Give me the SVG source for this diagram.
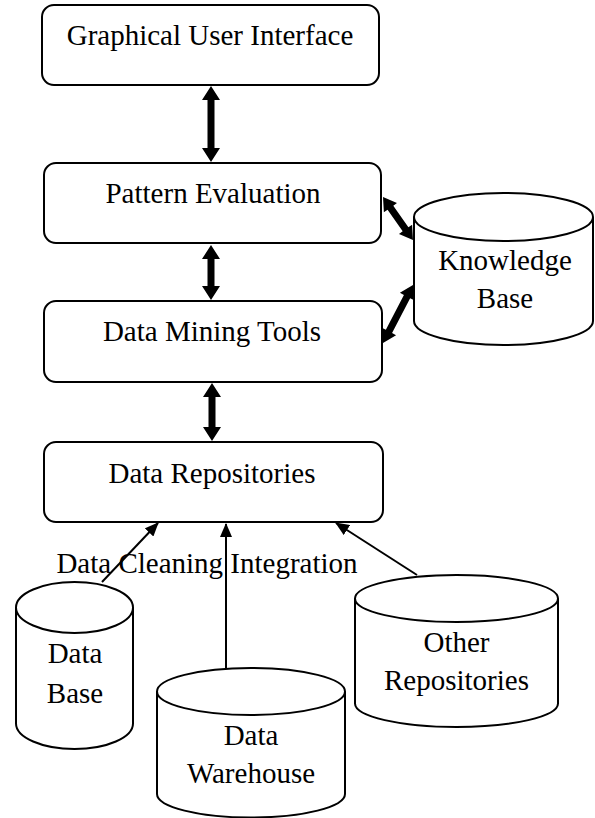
<svg xmlns="http://www.w3.org/2000/svg" width="595" height="818" viewBox="0 0 595 818">
<style>
.box{fill:#fff;stroke:#000;stroke-width:2}
.cyl{fill:#fff;stroke:#000;stroke-width:2}
.t{font-family:"Liberation Serif","Times New Roman",serif;font-size:29px;fill:#000;text-anchor:middle}
.thin{stroke:#000;stroke-width:2;fill:none;marker-end:url(#ah)}
.thick{fill:#000;stroke:none}
</style>
<defs>
<marker id="ah" viewBox="0 0 14 12" refX="13" refY="6" markerWidth="14" markerHeight="12" markerUnits="userSpaceOnUse" orient="auto"><path d="M0,0 L14,6 L0,12 Z" fill="#000"/></marker>
</defs>
<rect width="595" height="818" fill="#fff"/>
<g id="gui"><rect class="box" x="42" y="5" width="337" height="80" rx="12"/><text class="t" x="210" y="45">Graphical User Interface</text></g>
<g id="pattern"><rect class="box" x="44" y="163" width="337" height="80" rx="12"/><text class="t" x="213" y="203">Pattern Evaluation</text></g>
<g id="mining"><rect class="box" x="44" y="301" width="338" height="81" rx="12"/><text class="t" x="212" y="341">Data Mining Tools</text></g>
<g id="repos"><rect class="box" x="44" y="442" width="339" height="80" rx="12"/><text class="t" x="212" y="483">Data Repositories</text></g>
<g id="kb"><path class="cyl" d="M414,217 L414,321 A89.5,24 0 0 0 593,321 L593,217"/><ellipse class="cyl" cx="503.5" cy="217" rx="89.5" ry="24"/><text class="t" x="505" y="270">Knowledge</text><text class="t" x="505" y="308">Base</text></g>
<g id="database"><path class="cyl" d="M16,607.5 L16,723.5 A58.5,25.5 0 0 0 133,723.5 L133,607.5"/><ellipse class="cyl" cx="74.5" cy="607.5" rx="58.5" ry="25.5"/><text class="t" x="75" y="663">Data</text><text class="t" x="75" y="703">Base</text></g>
<g id="warehouse"><path class="cyl" d="M157,691.5 L157,794 A94,23.5 0 0 0 345,794 L345,691.5"/><ellipse class="cyl" cx="251" cy="691.5" rx="94" ry="23.5"/><text class="t" x="251" y="745">Data</text><text class="t" x="251" y="783">Warehouse</text></g>
<g id="other"><path class="cyl" d="M355,598.5 L355,703.5 A101.5,23.5 0 0 0 558,703.5 L558,598.5"/><ellipse class="cyl" cx="456.5" cy="598.5" rx="101.5" ry="23.5"/><text class="t" x="456.5" y="652">Other</text><text class="t" x="456.5" y="690">Repositories</text></g>
<g id="connectors">
<path class="thick" d="M211,86 L220,100 L214.5,100 L214.5,148 L220,148 L211,162 L202,148 L207.5,148 L207.5,100 L202,100 Z"/>
<path class="thick" d="M211,245 L220,259 L214.5,259 L214.5,286 L220,286 L211,300 L202,286 L207.5,286 L207.5,259 L202,259 Z"/>
<path class="thick" d="M212,383 L221,397 L215.5,397 L215.5,427 L221,427 L212,441 L203,427 L208.5,427 L208.5,397 L203,397 Z"/>
<path class="thick" transform="translate(383,197) rotate(55.1)" d="M0,0 L13,-8 L13,-3.5 L39.4,-3.5 L39.4,-8 L52.4,0 L39.4,8 L39.4,3.5 L13,3.5 L13,8 Z"/>
<path class="thick" transform="translate(413,285) rotate(117.35)" d="M0,0 L13,-8 L13,-3.5 L52.3,-3.5 L52.3,-8 L65.3,0 L52.3,8 L52.3,3.5 L13,3.5 L13,8 Z"/>
<line class="thin" x1="102" y1="582" x2="158" y2="523"/>
<line class="thin" x1="226" y1="668" x2="226" y2="524"/>
<line class="thin" x1="417" y1="575" x2="336" y2="523"/>
</g>
<text id="label" class="t" x="207" y="573">Data Cleaning Integration</text>
</svg>
